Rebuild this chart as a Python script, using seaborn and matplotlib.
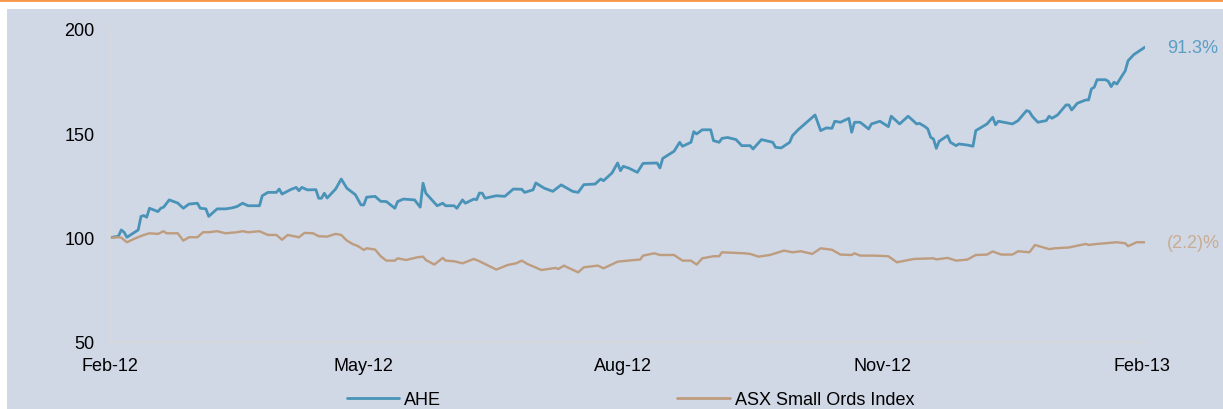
import pandas as pd
import numpy as np
import seaborn as sns
import matplotlib.pyplot as plt
import matplotlib.dates as mdates
from matplotlib.patches import Rectangle
from matplotlib.lines import Line2D

start = pd.Timestamp('2012-02-01')

# days since 1 Feb 2012, rebased price (start = 100)
ahe_day = [0, 3, 4, 5, 6, 10, 11, 12, 13, 14, 17, 18, 19, 21, 24, 26, 28, 31, 32, 34,
           35, 38, 41, 43, 45, 47, 49, 53, 54, 56, 59, 60, 61, 64, 66, 67, 68, 70, 73, 74,
           75, 76, 77, 80, 82, 84, 87, 89, 90, 91, 94, 96, 98, 101, 102, 104, 108, 110, 111, 112,
           116, 118, 119, 122, 123, 125, 126, 129, 130, 131, 132, 133, 137, 140, 143, 146, 147, 150, 151, 154,
           157, 160, 164, 166, 168, 172, 174, 175, 178, 180, 181, 182, 184, 187, 189, 194, 195, 196, 200, 202,
           203, 206, 207, 208, 210, 213, 214, 216, 217, 219, 222, 224, 227, 228, 231, 235, 236, 238, 241, 242,
           244, 250, 252, 254, 256, 257, 259, 262, 263, 264, 266, 269, 270, 273, 276, 277, 280, 283, 285, 286,
           287, 289, 290, 291, 292, 293, 294, 297, 298, 300, 301, 304, 306, 307, 309, 311, 313, 314, 315, 320,
           322, 325, 326, 327, 329, 332, 333, 334, 336, 339, 340, 341, 343, 346, 347, 348, 349, 350, 353, 354,
           355, 356, 357, 360, 361, 363, 367]
ahe_val = [100.0, 100.7, 103.7, 102.6, 100.2, 103.7, 110.2, 110.6, 109.8, 114.1, 112.5, 114.1, 114.6, 118.1, 116.6, 114.1, 116.1, 116.5, 114.1, 113.8,
           110.2, 113.8, 113.8, 114.2, 114.9, 116.5, 115.3, 115.3, 120.1, 121.7, 121.7, 123.3, 120.9, 123.0, 124.1, 122.5, 124.1, 122.9, 123.0, 118.9,
           118.9, 121.3, 119.0, 123.3, 128.1, 123.7, 120.6, 115.7, 115.7, 119.4, 119.8, 117.4, 117.3, 114.1, 117.3, 118.5, 118.1, 114.6, 126.1, 121.3,
           115.3, 116.5, 115.3, 115.3, 114.1, 118.1, 116.5, 118.5, 118.2, 121.4, 121.3, 118.9, 120.1, 119.8, 123.3, 123.2, 121.7, 122.9, 126.2, 123.7,
           122.2, 125.3, 122.2, 121.7, 125.4, 125.7, 128.1, 127.3, 131.0, 135.8, 132.1, 134.2, 133.3, 131.3, 135.6, 135.8, 133.4, 138.0, 141.4, 145.7,
           143.8, 145.7, 150.8, 149.7, 151.7, 151.7, 146.5, 145.7, 147.6, 148.0, 147.0, 144.1, 144.1, 142.5, 147.0, 145.7, 143.3, 143.0, 145.7, 148.9,
           151.7, 158.8, 151.3, 152.6, 152.4, 155.8, 155.3, 157.2, 150.5, 155.3, 155.3, 152.1, 154.5, 155.8, 153.2, 158.2, 154.5, 158.2, 155.8, 154.5,
           154.8, 153.2, 152.1, 148.1, 147.3, 142.8, 146.2, 148.9, 145.7, 144.1, 144.9, 144.4, 143.8, 151.3, 152.9, 154.5, 157.7, 154.1, 155.8, 154.5,
           156.1, 160.9, 160.4, 158.2, 155.3, 156.1, 158.2, 157.2, 158.8, 163.6, 163.6, 161.2, 164.4, 166.0, 166.0, 171.3, 172.1, 175.7, 175.7, 174.9,
           172.4, 174.5, 173.6, 180.0, 184.8, 187.7, 191.3]

idx_day = [0, 3, 4, 6, 9, 12, 14, 17, 19, 20, 24, 26, 28, 31, 33, 35, 38, 41, 45, 47,
           49, 53, 56, 59, 61, 63, 67, 69, 72, 74, 77, 80, 82, 84, 86, 88, 90, 91, 94, 96,
           98, 101, 102, 105, 109, 111, 112, 115, 118, 119, 122, 125, 129, 131, 137, 141, 144, 146, 148, 153,
           158, 159, 161, 162, 166, 168, 173, 175, 180, 186, 188, 189, 193, 195, 200, 203, 206, 208, 210, 214,
           216, 217, 225, 227, 230, 234, 239, 242, 245, 249, 252, 256, 259, 263, 264, 266, 271, 276, 279, 285,
           292, 293, 297, 300, 304, 307, 311, 313, 316, 320, 322, 326, 328, 333, 335, 340, 346, 347, 350, 357,
           360, 361, 364, 367]
idx_val = [100.0, 100.2, 100.0, 97.8, 99.7, 101.3, 102.1, 101.8, 103.1, 102.1, 102.1, 98.6, 100.2, 100.2, 102.6, 102.6, 103.1, 102.1, 102.6, 103.1,
           102.6, 103.1, 101.3, 101.3, 99.0, 101.3, 100.2, 102.3, 102.1, 100.7, 100.5, 101.8, 101.3, 98.6, 97.0, 95.9, 94.1, 94.9, 94.3, 91.1,
           89.0, 89.0, 90.1, 89.3, 90.6, 90.9, 89.3, 87.1, 90.3, 89.0, 88.7, 87.7, 89.8, 88.7, 84.7, 86.9, 87.7, 89.0, 87.4, 84.5,
           85.5, 85.0, 86.6, 85.9, 83.4, 85.8, 86.6, 85.3, 88.5, 89.3, 89.5, 91.4, 92.5, 91.7, 91.7, 89.0, 89.0, 87.1, 90.1, 91.1,
           91.1, 93.0, 92.5, 92.2, 90.9, 91.7, 93.8, 93.0, 93.5, 92.2, 94.9, 94.2, 91.9, 91.7, 92.5, 91.4, 91.4, 91.1, 88.2, 89.8,
           90.1, 89.6, 90.3, 89.0, 89.5, 91.7, 91.9, 93.4, 91.9, 91.9, 93.5, 93.0, 96.5, 94.5, 94.9, 95.3, 97.0, 96.5, 97.0, 97.8,
           97.3, 95.9, 97.8, 97.8]

series_names = ['AHE', 'ASX Small Ords Index']
end_labels = ['91.3%', '(2.2)%']
y_ticks = [50, 100, 150, 200]
x_ticks = ['2012-02-01', '2012-05-01', '2012-08-01', '2012-11-01', '2013-02-01']

df = pd.concat([
    pd.DataFrame({'date': start + pd.to_timedelta(ahe_day, unit='D'), 'value': ahe_val, 'series': series_names[0]}),
    pd.DataFrame({'date': start + pd.to_timedelta(idx_day, unit='D'), 'value': idx_val, 'series': series_names[1]}),
])

blue = '#4A93B8'
tan = '#BE9C7E'
bg = '#D0D7E5'
fs = 13

sns.set_style('white')
plt.rcParams['font.family'] = ['Liberation Sans', 'DejaVu Sans']

fig = plt.figure(figsize=(12.23, 4.10), dpi=100)
# grey-blue panel behind the chart, orange rule along the top
fig.patches.append(Rectangle((7 / 1223, 0), 1 - 7 / 1223, 400 / 410, transform=fig.transFigure,
                             facecolor=bg, edgecolor='none', zorder=-5))
fig.lines.append(Line2D([0, 1], [0.998, 0.998], transform=fig.transFigure, color='#F79646', lw=2, zorder=-5))

ax = fig.add_axes([110 / 1223, 1 - 343 / 410, (1145 - 110) / 1223, (343 - 30) / 410])
ax.set_zorder(2)
ax.set_facecolor('none')

sns.lineplot(data=df, x='date', y='value', hue='series', palette=[blue, tan],
             ax=ax, legend=False, estimator=None)
ax.lines[0].set_linewidth(2.0)
ax.lines[1].set_linewidth(1.7)

ax.set_ylim(50, 200)
ax.set_yticks(y_ticks)
ax.set_xlim(pd.Timestamp(x_ticks[0]), start + pd.Timedelta(days=367))
ax.set_xticks(pd.to_datetime(x_ticks))
ax.xaxis.set_major_formatter(mdates.DateFormatter('%b-%y'))
ax.tick_params(axis='both', length=0, labelsize=fs, colors='black')
ax.tick_params(axis='y', pad=11)
ax.tick_params(axis='x', pad=11)
ax.set_xlabel('')
ax.set_ylabel('')
for side in ['top', 'right']:
    ax.spines[side].set_visible(False)
for side in ['left', 'bottom']:
    ax.spines[side].set_color('#D9D9D9')
    ax.spines[side].set_linewidth(1.2)

# end-of-period returns
last_date = start + pd.Timedelta(days=367)
ax.annotate(end_labels[0], xy=(last_date, ahe_val[-1]), xytext=(16, 0), textcoords='offset points',
            va='center', ha='left', color='#5B9EC4', fontsize=fs, annotation_clip=False)
ax.annotate(end_labels[1], xy=(last_date, idx_val[-1]), xytext=(16, 0), textcoords='offset points',
            va='center', ha='left', color='#C9AD93', fontsize=fs, annotation_clip=False)

handles = [Line2D([], [], color=blue, lw=2.0), Line2D([], [], color=tan, lw=2.0)]
fig.legend(handles, series_names, loc='center', bbox_to_anchor=(0.5155, 0.022), ncol=2, frameon=False,
           fontsize=fs, handlelength=2.9, handletextpad=0.28, columnspacing=13.1, labelcolor='black')

fig.savefig('out.png', dpi=100)
